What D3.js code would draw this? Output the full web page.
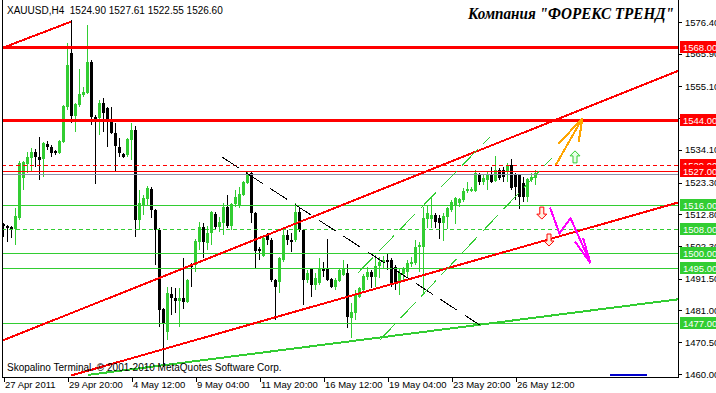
<!DOCTYPE html>
<html>
<head>
<meta charset="utf-8">
<script src="https://cdn.jsdelivr.net/npm/d3@7"></script>
<style>
    body {margin: 0; background: #fff;}
    svg {display: block;}
    text {font-family: "Liberation Sans", Arial, sans-serif; font-size: 9.5px;}
</style>
</head>
<body>
<svg id="chart" width="716" height="393"></svg>
<script>

//XAUUSD H4 bars, 27 Apr 2011 -> 26 May 2011
var symbol = "XAUUSD,H4";

var open_vals = [
    1509.6,1508.9,1508.6,1507.9,1511.6,1524.8,1529.4,1531.4,1533.4,1531.8,
    1531.1,1536.1,1535.1,1533.8,1533.1,1536.7,1548.3,1566.2,1545.3,1549.0,
    1552.3,1552.9,1563.2,1545.0,1544.7,1549.6,1548.0,1543.3,1539.7,1535.1,
    1532.8,1532.4,1537.4,1540.7,1510.9,1515.9,1517.9,1521.2,1514.2,1507.6,
    1481.5,1473.9,1486.5,1485.1,1484.1,1485.1,1483.8,1496.0,1496.0,1503.6,
    1508.6,1503.3,1506.6,1512.9,1508.6,1509.9,1515.2,1508.9,1516.2,1515.9,
    1519.2,1523.2,1526.5,1513.2,1501.3,1499.0,1506.0,1504.3,1491.1,1490.4,
    1497.7,1506.0,1504.3,1504.3,1513.6,1507.6,1491.1,1494.7,1489.4,1490.1,
    1495.0,1495.0,1491.4,1488.8,1490.8,1492.7,1493.4,1478.5,1480.2,1485.5,
    1487.8,1492.1,1493.7,1492.1,1495.7,1497.0,1497.7,1497.7,1495.4,1490.1,
    1493.1,1493.7,1496.4,1496.7,1502.0,1502.0,1511.3,1511.3,1512.6,1511.6,
    1509.9,1511.9,1514.2,1515.9,1516.5,1517.5,1520.5,1520.5,1520.5,1526.1,
    1523.5,1524.2,1525.8,1523.8,1527.5,1527.5,1526.8,1529.1,1525.8,1525.8,
    1523.2,1518.5,1524.2,1524.90
];

var high_vals = [
    1509.9,1509.3,1508.8,1514.9,1530.4,1530.4,1533.4,1534.7,1534.4,1538.4,
    1536.7,1537.0,1535.7,1534.1,1537.4,1548.9,1569.5,1577.1,1549.6,1560.9,
    1554.9,1575.4,1563.8,1545.6,1550.6,1551.3,1548.3,1548.3,1543.0,1538.0,
    1533.1,1538.0,1543.0,1542.0,1520.9,1519.2,1522.2,1521.8,1514.6,1508.3,
    1481.8,1488.8,1488.8,1488.4,1488.4,1498.4,1491.4,1496.7,1504.6,1510.3,
    1509.9,1508.9,1513.9,1513.6,1511.9,1516.5,1519.2,1516.5,1520.9,1521.8,
    1523.8,1526.8,1526.8,1513.6,1502.0,1506.0,1506.6,1505.0,1491.4,1498.7,
    1507.6,1507.6,1506.6,1516.5,1514.9,1507.9,1494.4,1495.0,1493.4,1498.4,
    1497.0,1504.6,1491.7,1491.7,1494.7,1497.7,1496.4,1483.5,1487.8,1488.8,
    1493.1,1495.4,1494.4,1499.4,1498.7,1499.0,1499.7,1498.4,1496.0,1495.0,
    1495.4,1497.7,1498.7,1504.3,1503.6,1515.2,1515.9,1518.5,1513.2,1512.6,
    1513.2,1515.2,1517.5,1518.5,1518.2,1521.5,1523.5,1521.8,1527.5,1526.5,
    1526.1,1526.8,1528.5,1532.1,1528.1,1528.5,1529.8,1531.1,1526.5,1526.1,
    1525.1,1524.8,1526.5,1527.61
];

var low_vals = [
    1505.3,1503.6,1505.0,1502.7,1510.9,1520.9,1526.5,1526.8,1528.5,1524.2,
    1525.1,1534.1,1531.8,1532.4,1532.8,1536.4,1547.3,1543.0,1540.0,1548.3,
    1551.6,1552.6,1542.3,1522.8,1539.0,1540.0,1535.1,1539.5,1526.8,1531.8,
    1531.4,1531.8,1530.8,1505.3,1507.6,1512.6,1515.9,1511.6,1496.0,1475.5,
    1462.3,1471.2,1479.5,1480.2,1475.5,1481.5,1483.5,1488.8,1493.7,1501.0,
    1498.4,1501.0,1502.7,1507.6,1506.9,1506.0,1508.3,1507.6,1515.2,1514.9,
    1518.9,1522.8,1509.9,1495.0,1497.7,1498.7,1502.7,1490.4,1477.9,1486.8,
    1497.0,1502.7,1500.3,1503.6,1506.9,1482.8,1490.1,1485.5,1487.8,1489.4,
    1492.1,1490.8,1488.4,1487.8,1490.4,1492.4,1475.2,1471.9,1477.9,1485.1,
    1487.1,1491.1,1488.4,1488.8,1491.7,1495.0,1494.4,1488.8,1487.8,1486.1,
    1491.1,1492.1,1495.4,1496.0,1493.7,1486.1,1508.3,1508.3,1508.3,1504.6,
    1504.0,1507.9,1513.6,1509.6,1515.2,1516.9,1519.9,1520.2,1520.2,1522.5,
    1522.5,1520.9,1523.2,1523.5,1524.2,1523.5,1523.5,1520.9,1517.5,1514.6,
    1516.9,1516.9,1523.5,1522.55
];

var close_vals = [
    1508.9,1508.3,1507.9,1512.2,1529.8,1530.1,1531.8,1533.4,1531.8,1530.8,
    1536.4,1535.1,1533.1,1533.1,1537.0,1548.6,1562.2,1545.3,1549.3,1552.6,
    1553.3,1563.2,1545.0,1543.7,1549.6,1546.3,1543.3,1539.7,1535.4,1533.1,
    1531.8,1537.7,1540.7,1510.9,1516.5,1518.2,1521.5,1514.2,1507.6,1481.1,
    1476.9,1486.8,1485.1,1484.1,1485.1,1483.8,1491.1,1495.4,1504.0,1508.6,
    1503.6,1506.6,1513.6,1508.6,1510.3,1515.2,1508.9,1516.2,1518.5,1519.5,
    1523.5,1525.8,1513.2,1500.7,1500.7,1505.0,1504.3,1491.1,1488.8,1498.4,
    1506.0,1504.3,1503.6,1513.6,1507.6,1491.1,1493.4,1489.4,1491.7,1495.0,
    1494.0,1491.1,1488.8,1491.1,1494.4,1495.0,1478.9,1480.5,1486.1,1488.4,
    1492.4,1493.7,1492.1,1495.7,1497.0,1497.7,1497.0,1490.1,1490.1,1493.4,
    1495.0,1496.7,1497.0,1502.0,1502.7,1511.6,1513.2,1512.6,1510.3,1509.9,
    1512.2,1514.9,1516.9,1518.2,1517.9,1520.5,1521.2,1521.2,1526.5,1523.5,
    1524.8,1525.8,1523.5,1527.5,1524.8,1525.1,1529.1,1521.5,1521.8,1518.5,
    1518.5,1524.5,1525.1,1526.60
];

//price axis ticks and time axis labels (one label per 16 bars)
var y_ticks = [1576.40, 1565.90, 1555.10, 1544.60, 1534.10, 1523.30, 1512.80, 1502.30, 1491.50, 1481.00, 1470.50, 1460.00];
var x_tick_bars = [0, 16, 32, 48, 64, 80, 96, 112, 128];
var x_tick_labels = ["27 Apr 2011", "29 Apr 20:00", "4 May 12:00", "9 May 04:00", "11 May 20:00",
                     "16 May 12:00", "19 May 04:00", "23 May 20:00", "26 May 12:00"];

//horizontal levels drawn on the chart
var levels = [1568.00, 1544.00, 1529.00, 1527.00, 1516.00, 1508.00, 1500.00, 1495.00, 1477.00];

//trend lines as [bar, price] pairs
var trend_red_top = [[0, 1567.9], [17, 1576.5]];
var trend_red_upper = [[-0.25, 1471.0], [168.75, 1560.2]];
var trend_red_lower = [[17, 1459.5], [168.75, 1516.7]];
var trend_green = [[21.2, 1459.7], [168.75, 1484.7]];
var trend_black_dash = [[54.7, 1531.8], [119.2, 1476.2]];
var channel_a = [[88.7, 1493.4], [121.7, 1538.4]];
var channel_b = [[94.2, 1471.2], [137.2, 1531.4]];
var blue_segment = [[151.75, 1459.8], [160.9, 1459.8]];

//forecast arrows
var orange_arrow = [
    [[138.2, 1529.1], [144.9, 1544.7]],
    [[138.9, 1536.1], [144.9, 1544.7]],
    [[143.9, 1536.7], [144.9, 1544.7]]
];
var magenta_path = [[136.75, 1515.1], [139.1, 1506.5], [141.9, 1511.5], [146.9, 1496.6]];
var magenta_heads = [
    [[143.0, 1503.8], [146.9, 1496.6]],
    [[145.0, 1505.0], [146.9, 1496.6]]
];
var signal_up = [[143, 1531.8]];
var signal_down = [[134.7, 1513.2], [136.5, 1504.3]];

var bars = open_vals.map(function(d, i) {
    return {i: i, o: d, h: high_vals[i], l: low_vals[i], c: close_vals[i]};
});

var svg = d3.select("#chart");
var plot = {left: 2, right: 678, top: 0, bottom: 377};
var col_green = "#32CD32", col_red = "#FF0000";

//set scales
var x_scale = d3.scaleLinear().domain([0, 168]).range([3, 675]);
var y_scale = d3.scaleLinear().domain([1460.0, 1576.4]).range([374, 22]);

svg.append("rect").attr("width", 716).attr("height", 393).attr("fill", "#fff");

svg.append("defs").append("clipPath").attr("id", "clip")
    .append("rect")
    .attr("x", plot.left).attr("y", plot.top)
    .attr("width", plot.right - plot.left).attr("height", plot.bottom - plot.top);

var chart = svg.append("g").attr("clip-path", "url(#clip)");

//candles - wick then body
var candle = chart.append("g").attr("shape-rendering", "crispEdges")
    .selectAll("g").data(bars).enter().append("g");

candle.append("rect")
    .attr("x", d => x_scale(d.i))
    .attr("y", d => Math.round(y_scale(d.h)))
    .attr("width", 1)
    .attr("height", d => Math.max(1, Math.round(y_scale(d.l)) - Math.round(y_scale(d.h))))
    .attr("fill", d => d.c >= d.o ? col_green : "#000");

candle.append("rect")
    .attr("x", d => x_scale(d.i) - 1)
    .attr("y", d => Math.round(y_scale(Math.max(d.o, d.c))))
    .attr("width", 3)
    .attr("height", d => Math.max(1, Math.round(y_scale(Math.min(d.o, d.c))) - Math.round(y_scale(Math.max(d.o, d.c)))))
    .attr("fill", d => d.c >= d.o ? col_green : "#000");

//horizontal levels
function level_colour(v) { return v >= 1527 ? col_red : col_green; }
function level_width(v) { return (v === 1568 || v === 1544) ? 3 : 1; }
function level_dash(v) { return (v === 1529 || v === 1508) ? "4,3" : null; }

chart.append("g").attr("shape-rendering", "crispEdges")
    .selectAll("line").data(levels).enter().append("line")
    .attr("x1", plot.left).attr("x2", plot.right)
    .attr("y1", d => Math.round(y_scale(d)) + 0.5)
    .attr("y2", d => Math.round(y_scale(d)) + 0.5)
    .attr("stroke", level_colour)
    .attr("stroke-width", level_width)
    .attr("stroke-dasharray", level_dash);

//bid line
var last_bar = bars[bars.length - 1];
chart.append("line")
    .attr("shape-rendering", "crispEdges")
    .attr("x1", plot.left).attr("x2", plot.right)
    .attr("y1", Math.round(y_scale(last_bar.c)) + 1.5)
    .attr("y2", Math.round(y_scale(last_bar.c)) + 1.5)
    .attr("stroke", "#8c92ac").attr("stroke-width", 1);

var line = d3.line().x(d => x_scale(d[0])).y(d => y_scale(d[1]));

function draw_line(pts, colour, width, dash) {
    chart.append("path")
        .attr("d", line(pts))
        .attr("fill", "none")
        .attr("stroke", colour)
        .attr("stroke-width", width)
        .attr("stroke-dasharray", dash || null)
        .attr("shape-rendering", "crispEdges");
}

draw_line(trend_red_top, col_red, 2);
draw_line(trend_red_upper, col_red, 2);
draw_line(trend_red_lower, col_red, 2);
draw_line(trend_green, col_green, 2);
draw_line(trend_black_dash, "#000", 1, "20,9");
draw_line(channel_a, col_green, 1, "22,8");
draw_line(channel_b, col_green, 1, "22,8");
draw_line(blue_segment, "#0000CC", 2);

orange_arrow.forEach(function(seg) { draw_line(seg, "#FFA500", 2); });
draw_line(magenta_path, "#FF00FF", 2);
magenta_heads.forEach(function(seg) { draw_line(seg, "#FF00FF", 2); });

//hollow signal arrows
var up_shape = "M0,-6 L5,-1 L2,-1 L2,6 L-2,6 L-2,-1 L-5,-1 Z";
var down_shape = "M0,6 L5,1 L2,1 L2,-6 L-2,-6 L-2,1 L-5,1 Z";

chart.selectAll(".sig_up").data(signal_up).enter().append("path")
    .attr("class", "sig_up")
    .attr("d", up_shape)
    .attr("transform", d => "translate(" + x_scale(d[0]) + "," + y_scale(d[1]) + ")")
    .attr("fill", "#e8ffe8").attr("stroke", col_green).attr("stroke-width", 1);

chart.selectAll(".sig_down").data(signal_down).enter().append("path")
    .attr("class", "sig_down")
    .attr("d", down_shape)
    .attr("transform", d => "translate(" + x_scale(d[0]) + "," + y_scale(d[1]) + ")")
    .attr("fill", "#fff0e0").attr("stroke", col_red).attr("stroke-width", 1);

//texts
svg.append("text")
    .attr("x", 7).attr("y", 14)
    .style("white-space", "pre").style("font-size", "10px")
    .text(symbol + "  " + [last_bar.o, last_bar.h, last_bar.l, last_bar.c].map(d => d.toFixed(2)).join(" "));

svg.append("text")
    .attr("x", 468).attr("y", 19)
    .attr("textLength", 206).attr("lengthAdjust", "spacingAndGlyphs")
    .style("font-family", "'Liberation Serif', 'Times New Roman', serif")
    .style("font-size", "16px").style("font-weight", "bold").style("font-style", "italic")
    .text("Компания \"ФОРЕКС ТРЕНД\"");

svg.append("text")
    .attr("x", 7).attr("y", 371).style("font-size", "10px")
    .text("Skopalino Terminal. © 2001-2010 MetaQuotes Software Corp.");

//frame
var frame = svg.append("g").attr("shape-rendering", "crispEdges").attr("stroke", "#000");
frame.append("line").attr("x1", plot.left + 0.5).attr("x2", plot.left + 0.5).attr("y1", 0).attr("y2", plot.bottom);
frame.append("line").attr("x1", plot.right + 0.5).attr("x2", plot.right + 0.5).attr("y1", 0).attr("y2", plot.bottom);
frame.append("line").attr("x1", plot.left).attr("x2", plot.right + 1).attr("y1", plot.bottom + 0.5).attr("y2", plot.bottom + 0.5);

//set axes
var y_axis = d3.axisRight(y_scale).tickValues(y_ticks).tickFormat(d3.format(".2f"))
    .tickSize(3).tickPadding(3).tickSizeOuter(0);
var y_axis_g = svg.append("g")
    .attr("transform", "translate(" + (plot.right + 1) + ",0)")
    .call(y_axis);
y_axis_g.select(".domain").remove();
y_axis_g.selectAll("line").attr("shape-rendering", "crispEdges");
y_axis_g.selectAll("text").style("font-size", "9.5px").attr("fill", "#000");

var x_axis = d3.axisBottom(x_scale).tickValues(x_tick_bars)
    .tickFormat((d, i) => x_tick_labels[i]).tickSize(4).tickSizeOuter(0);
var x_axis_g = svg.append("g")
    .attr("transform", "translate(0.5," + (plot.bottom + 1) + ")")
    .call(x_axis);
x_axis_g.select(".domain").remove();
x_axis_g.selectAll("line").attr("shape-rendering", "crispEdges");
x_axis_g.selectAll("text")
    .attr("text-anchor", "start").attr("x", 1).attr("y", 10).attr("dy", 0)
    .style("font-size", "9.5px").attr("fill", "#000");

//price labels for the levels
var tag = svg.append("g").selectAll("g").data(levels).enter().append("g")
    .attr("transform", d => "translate(" + (plot.right + 2) + "," + Math.round(y_scale(d)) + ")");
tag.append("rect")
    .attr("x", 0).attr("y", -6).attr("width", 40).attr("height", 12)
    .attr("fill", level_colour).attr("shape-rendering", "crispEdges");
tag.append("text")
    .attr("x", 3).attr("y", 3.5)
    .attr("fill", "#fff")
    .text(d => d.toFixed(2));

</script>
</body>
</html>
